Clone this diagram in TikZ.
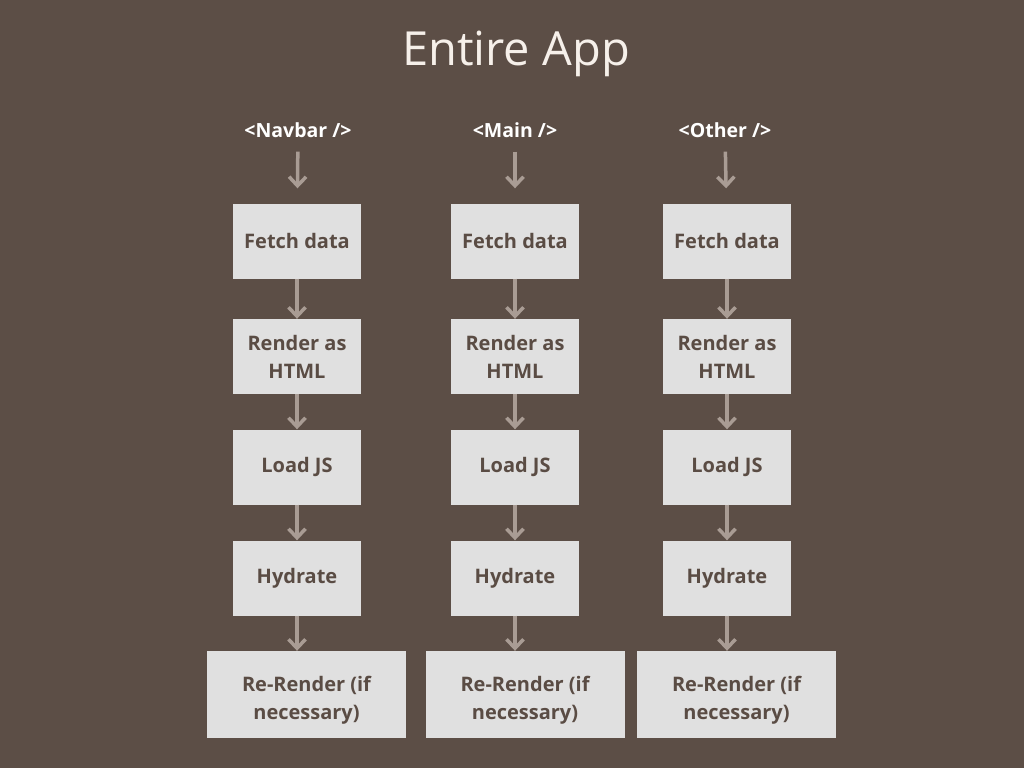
\documentclass[tikz,border=0pt]{standalone}
\usepackage{fontspec}
\setmainfont{Open Sans}
\usetikzlibrary{arrows.meta}
\definecolor{bgbrown}{HTML}{5C4E46}
\definecolor{boxgrey}{HTML}{E0E0E0}
\definecolor{boxtext}{HTML}{5A4C44}
\definecolor{arrowtan}{HTML}{A99C94}
\definecolor{titlewhite}{HTML}{F6F0EA}

\begin{document}
\begin{tikzpicture}[x=1pt,y=-1pt]

    \fill[bgbrown] (0,0) rectangle (1024,768);
    \useasboundingbox (0,0) rectangle (1024,768);

    \node[text=titlewhite,anchor=base,font=\fontsize{47}{56}\selectfont] (title) at (516,65) {Entire App}; % Title

    \begin{scope}[every node/.style={text=white,inner sep=0pt,font=\bfseries\fontsize{19.5}{22}\selectfont}]
        \node (h1) at (298,130) {<Navbar />};
        \node (h2) at (515,130) {<Main />};
        \node (h3) at (725,130) {<Other />};
    \end{scope}

    \begin{scope}[every node/.style={fill=boxgrey,text=boxtext,rectangle,align=center,minimum width=128pt,minimum height=75pt,font=\bfseries\fontsize{20}{28}\selectfont}]
        % Navbar column %
        \node (f1) at (297,241) {Fetch data};
        \node (r1) at (297,356.5) {Render as\\HTML};
        \node (l1) at (297,467) {Load JS};
        \node (d1) at (297,578) {Hydrate};
        \node[minimum width=199pt,minimum height=87pt] (e1) at (306.5,694.5) {\rule{0pt}{27pt}Re-Render (if\\necessary)};
        % Main column %
        \node (f2) at (515,241) {Fetch data};
        \node (r2) at (515,356.5) {Render as\\HTML};
        \node (l2) at (515,467) {Load JS};
        \node (d2) at (515,578) {Hydrate};
        \node[minimum width=199pt,minimum height=87pt] (e2) at (525,694.5) {\rule{0pt}{27pt}Re-Render (if\\necessary)};
        % Other column %
        \node (f3) at (727,241) {Fetch data};
        \node (r3) at (727,356.5) {Render as\\HTML};
        \node (l3) at (727,467) {Load JS};
        \node (d3) at (727,578) {Hydrate};
        \node[minimum width=199pt,minimum height=87pt] (e3) at (736.5,694.5) {\rule{0pt}{27pt}Re-Render (if\\necessary)};
    \end{scope}

    \begin{scope}[every path/.style={draw=arrowtan,line width=3.5pt,-{Straight Barb[length=9pt,width=17pt,line width=3.5pt]}}]
        \path (h1) edge[shorten <=14pt,shorten >=15pt] (f1);
        \path (h2) edge[shorten <=14pt,shorten >=15pt] (f2);
        \path (h3) edge[shorten <=14pt,shorten >=15pt] (f3);
        \path (f1) edge (r1) (r1) edge (l1) (l1) edge (d1);
        \path (f2) edge (r2) (r2) edge (l2) (l2) edge (d2);
        \path (f3) edge (r3) (r3) edge (l3) (l3) edge (d3);
        \draw (d1.south) -- (d1.south |- e1.north);
        \draw (d2.south) -- (d2.south |- e2.north);
        \draw (d3.south) -- (d3.south |- e3.north);
    \end{scope}

\end{tikzpicture}
\end{document}
